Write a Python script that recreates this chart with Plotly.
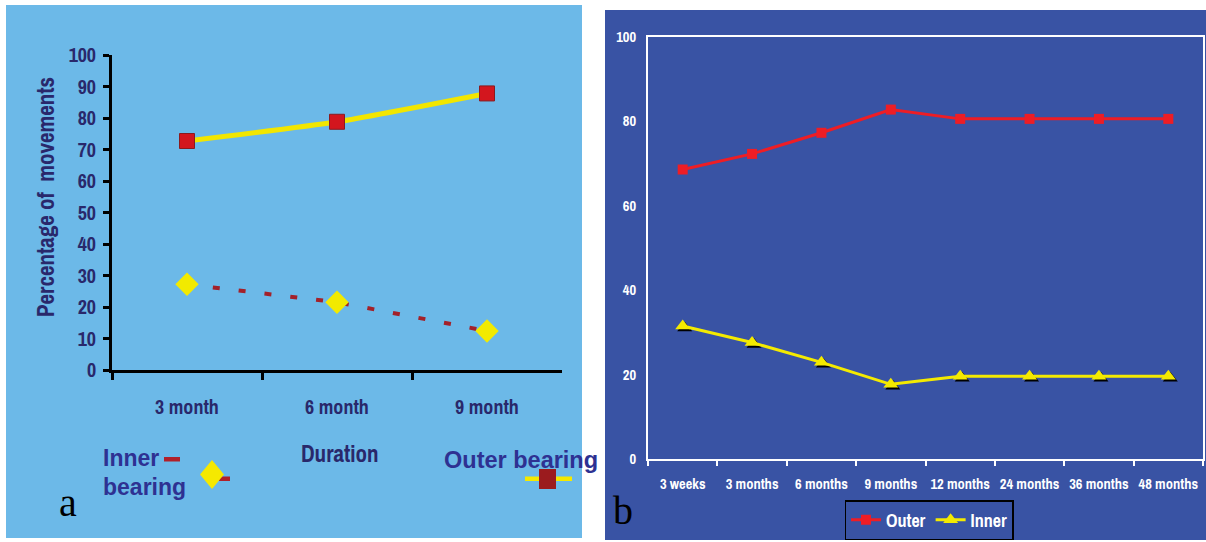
import plotly.graph_objects as go

W, H = 1206, 542

# ---------------- data ----------------
left_categories = ["3 month", "6 month", "9 month"]
left_outer = [72.7, 78.8, 87.8]
left_inner = [27.2, 21.5, 12.4]
left_yticks = [0, 10, 20, 30, 40, 50, 60, 70, 80, 90, 100]

right_categories = ["3 weeks", "3 months", "6 months", "9 months",
                    "12 months", "24 months", "36 months", "48 months"]
right_outer = [68.6, 72.3, 77.3, 82.8, 80.6, 80.6, 80.6, 80.6]
right_inner = [31.5, 27.6, 22.9, 17.7, 19.6, 19.6, 19.6, 19.6]
right_yticks = [0, 20, 40, 60, 80, 100]


def px(x):
    return x / W


def py(y):
    return 1 - y / H


LEFT_BG = "#6CB9E8"
RIGHT_BG = "#3953A4"
NAVY = "#29286B"
LEG_NAVY = "#2E3192"
SANS = "Liberation Sans, Arial, sans-serif"
NARROW = "Archivo Narrow, Liberation Sans, sans-serif"
SERIF = "Liberation Serif, Times New Roman, serif"

fig = go.Figure()

# ---------------- panel a ----------------
fig.add_trace(go.Scatter(
    x=left_categories, y=left_inner, mode="lines",
    line=dict(color="#A3212A", width=4, dash="7px,19px"),
    xaxis="x", yaxis="y", showlegend=False, hoverinfo="skip"))
fig.add_trace(go.Scatter(
    x=left_categories, y=left_inner, mode="markers",
    marker=dict(symbol="diamond", size=18, color="#F2EA00", line=dict(width=0)),
    xaxis="x", yaxis="y", showlegend=False, hoverinfo="skip"))
fig.add_trace(go.Scatter(
    x=left_categories, y=left_outer, mode="lines+markers",
    line=dict(color="#F2E600", width=5, shape="spline", smoothing=0.6),
    marker=dict(symbol="square", size=15, color="#D3161E",
                line=dict(color="#8A1A1E", width=1)),
    xaxis="x", yaxis="y", showlegend=False, hoverinfo="skip"))

# ---------------- panel b ----------------
fig.add_trace(go.Scatter(
    x=right_categories, y=right_outer, mode="lines+markers", name="Outer",
    line=dict(color="#EE1D25", width=3),
    marker=dict(symbol="square", size=10, color="#EE1D25"),
    xaxis="x2", yaxis="y2", hoverinfo="skip"))
fig.add_trace(go.Scatter(
    x=right_categories, y=right_inner, mode="markers", name="shadow",
    marker=dict(symbol="triangle-up", size=13, color="black"),
    xaxis="x3", yaxis="y3", showlegend=False, hoverinfo="skip"))
fig.add_trace(go.Scatter(
    x=right_categories, y=right_inner, mode="lines+markers", name="Inner",
    line=dict(color="#F4EA00", width=3),
    marker=dict(symbol="triangle-up", size=13, color="#F4EA00"),
    xaxis="x4", yaxis="y4", hoverinfo="skip"))

# shadow offset in data units (2 px right, 2 px down)
cat_px = (1203 - 648) / len(right_categories)
dx = 2 / cat_px
dy = 2 / ((459 - 37) / 100)

shapes = [
    dict(type="rect", xref="paper", yref="paper", layer="below",
         x0=px(6), x1=px(582), y0=py(538), y1=py(5),
         fillcolor=LEFT_BG, line=dict(width=0)),
    dict(type="rect", xref="paper", yref="paper", layer="below",
         x0=px(605), x1=px(1206), y0=py(540), y1=py(10),
         fillcolor=RIGHT_BG, line=dict(width=0)),
    # panel a legend icons
    dict(type="rect", xref="paper", yref="paper",
         x0=px(164), x1=px(180), y0=py(461.5), y1=py(457),
         fillcolor="#B0202A", line=dict(width=0)),
    dict(type="rect", xref="paper", yref="paper",
         x0=px(219), x1=px(230), y0=py(481), y1=py(476.5),
         fillcolor="#B0202A", line=dict(width=0)),
    dict(type="path", xref="paper", yref="paper",
         path=f"M {px(212)},{py(460)} L {px(224)},{py(474.5)} L {px(212)},{py(489)} L {px(200)},{py(474.5)} Z",
         fillcolor="#F5E900", line=dict(width=0)),
    dict(type="rect", xref="paper", yref="paper",
         x0=px(525), x1=px(572), y0=py(481), y1=py(476.5),
         fillcolor="#F5E900", line=dict(width=0)),
    dict(type="rect", xref="paper", yref="paper",
         x0=px(539), x1=px(556), y0=py(489), y1=py(469),
         fillcolor="#9B1B1E", line=dict(width=0)),
]


def ann(text, x, y, size, family=SANS, color=NAVY, xanchor="center", **kw):
    return dict(text=text, xref="paper", yref="paper", x=px(x), y=py(y),
                xanchor=xanchor, yanchor="middle", showarrow=False,
                font=dict(family=family, size=size, color=color,
                          weight=kw.pop("weight", "bold")), **kw)


annotations = [
    ann("Percentage of  movements", 45, 197, 23, family=NARROW, textangle=-90),
    ann("Duration", 340, 453, 23, family=NARROW),
    ann("Inner", 101, 458, 23, color=LEG_NAVY, xanchor="left"),
    ann("bearing", 101, 487, 23, color=LEG_NAVY, xanchor="left"),
    ann("Outer bearing", 442, 460, 23.5, color=LEG_NAVY, xanchor="left"),
    ann("a", 68, 502, 40, family=SERIF, color="black", weight="normal"),
    ann("b", 623, 510, 40, family=SERIF, color="black", weight="normal"),
]

fig.update_layout(
    width=W, height=H, autosize=False,
    margin=dict(l=0, r=0, t=0, b=0, pad=0, autoexpand=False),
    paper_bgcolor="white", plot_bgcolor="rgba(0,0,0,0)",
    shapes=shapes, annotations=annotations, hovermode=False,
    xaxis=dict(domain=[px(112), px(562)], anchor="y", type="category",
               range=[-0.5, 2.5], showline=True, linecolor="black", linewidth=3,
               ticks="outside", tickson="boundaries", ticklen=7, tickwidth=3,
               tickcolor="black", ticklabelstandoff=17, tickangle=0,
               tickfont=dict(family=NARROW, size=20, color=NAVY, weight="bold"),
               showgrid=False, zeroline=False),
    yaxis=dict(domain=[py(370), py(55)], anchor="x", range=[0, 100],
               tickvals=left_yticks, showline=True, linecolor="black", linewidth=3,
               ticks="outside", ticklen=6, tickwidth=3, tickcolor="black",
               ticklabelstandoff=3,
               tickfont=dict(family=NARROW, size=20, color=NAVY, weight="bold"),
               showgrid=False, zeroline=False),
    xaxis2=dict(domain=[px(648), px(1203)], anchor="y2", type="category",
                range=[-0.5, 7.5], showline=True, mirror=True, linecolor="white",
                linewidth=2, ticks="outside", tickson="boundaries", ticklen=5,
                tickwidth=2, tickcolor="white", ticklabelstandoff=11, tickangle=0,
                tickfont=dict(family=NARROW, size=14.5, color="white", weight="bold"),
                showgrid=False, zeroline=False),
    yaxis2=dict(domain=[py(459), py(37)], anchor="x2", range=[0, 100],
                tickvals=right_yticks, showline=True, mirror=True,
                linecolor="white", linewidth=2, ticks="", ticklabelstandoff=7,
                tickfont=dict(family=NARROW, size=14.5, color="white", weight="bold"),
                showgrid=False, zeroline=False),
    xaxis3=dict(overlaying="x2", anchor="y3", type="category", visible=False,
                range=[-0.5 - dx, 7.5 - dx]),
    yaxis3=dict(overlaying="y2", anchor="x3", visible=False,
                range=[0 + dy, 100 + dy]),
    xaxis4=dict(overlaying="x2", anchor="y4", type="category", visible=False,
                range=[-0.5, 7.5]),
    yaxis4=dict(overlaying="y2", anchor="x4", visible=False, range=[0, 100]),
    legend=dict(orientation="h", x=px(929), xanchor="center",
                y=py(520), yanchor="middle", bgcolor=RIGHT_BG,
                bordercolor="black", borderwidth=1.5,
                font=dict(family=NARROW, size=18, color="white", weight="bold"),
                itemwidth=30, tracegroupgap=0),
)

fig.write_html("out.html", config={"displayModeBar": False},
               post_script="document.body.style.margin='0';document.body.style.overflow='hidden';")
